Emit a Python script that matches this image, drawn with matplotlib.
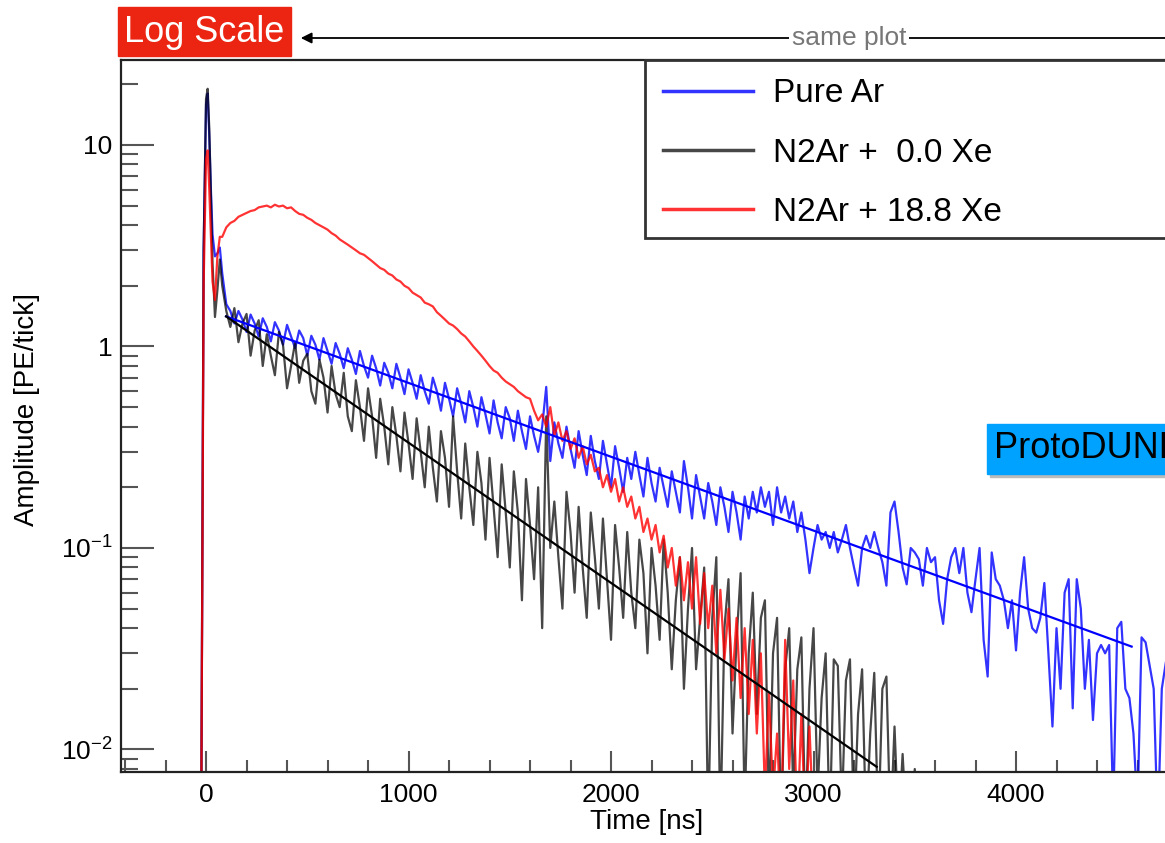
import numpy as np
import matplotlib.pyplot as plt
from matplotlib.ticker import LogLocator, MultipleLocator, NullFormatter
from matplotlib.patches import Rectangle

plt.rcParams['font.family'] = ['Liberation Sans', 'DejaVu Sans']
plt.rcParams['mathtext.fontset'] = 'custom'
plt.rcParams['mathtext.rm'] = 'Liberation Sans'
plt.rcParams['mathtext.it'] = 'Liberation Sans:italic'

# time grid [ns]: finer steps around the prompt peak, then 20 ns
t_head = [-40, -24, -12, 0, 8, 16, 24, 32, 44, 56, 68, 80]
t_tail = list(range(100, 4760, 20))
time = np.array(t_head + t_tail)

# Pure Ar waveform [PE/tick]
pure_ar = [0.004, 0.004, 3.0, 16.0, 18.0, 11.0, 6.0, 3.6, 2.8, 2.9, 3.1, 2.3,
           1.62, 1.50, 1.30, 1.50, 1.36, 1.18, 1.44, 1.30, 1.12, 1.38,
           1.25, 1.06, 1.32, 1.20, 1.02, 1.28, 1.12, 0.98, 1.20, 1.10,
           0.90, 1.13, 1.02, 0.86, 1.10, 0.95, 0.82, 1.04, 0.92, 0.78,
           0.98, 0.86, 0.73, 0.95, 0.80, 0.70, 0.90, 0.78, 0.64, 0.83,
           0.74, 0.62, 0.82, 0.70, 0.58, 0.77, 0.66, 0.55, 0.72, 0.60,
           0.52, 0.70, 0.60, 0.48, 0.66, 0.55, 0.45, 0.62, 0.52, 0.42,
           0.60, 0.50, 0.40, 0.56, 0.46, 0.37, 0.54, 0.42, 0.35, 0.50,
           0.44, 0.34, 0.48, 0.38, 0.31, 0.45, 0.36, 0.30, 0.40, 0.63,
           0.27, 0.42, 0.33, 0.28, 0.40, 0.31, 0.25, 0.38, 0.29, 0.23,
           0.36, 0.27, 0.22, 0.34, 0.26, 0.20, 0.32, 0.25, 0.19, 0.28,
           0.22, 0.30, 0.23, 0.18, 0.28, 0.21, 0.17, 0.25, 0.20, 0.16,
           0.24, 0.19, 0.15, 0.27, 0.20, 0.14, 0.23, 0.18, 0.14, 0.21,
           0.17, 0.13, 0.20, 0.16, 0.12, 0.19, 0.15, 0.11, 0.18, 0.14,
           0.19, 0.15, 0.20, 0.16, 0.19, 0.13, 0.20, 0.15, 0.18, 0.14,
           0.17, 0.12, 0.15, 0.11, 0.075, 0.10, 0.13, 0.11, 0.12, 0.10,
           0.12, 0.095, 0.11, 0.13, 0.10, 0.08, 0.065, 0.10, 0.115, 0.10,
           0.12, 0.10, 0.085, 0.065, 0.15, 0.17, 0.12, 0.08, 0.066, 0.10,
           0.095, 0.088, 0.065, 0.10, 0.085, 0.09, 0.055, 0.042, 0.07, 0.09,
           0.10, 0.075, 0.10, 0.06, 0.048, 0.07, 0.10, 0.035, 0.023, 0.095,
           0.07, 0.065, 0.055, 0.040, 0.055, 0.031, 0.06, 0.09, 0.05, 0.04,
           0.038, 0.045, 0.067, 0.03, 0.013, 0.04, 0.02, 0.06, 0.07, 0.016,
           0.07, 0.05, 0.02, 0.035, 0.014, 0.03, 0.033, 0.03, 0.033, 0.005,
           0.04, 0.043, 0.02, 0.018, 0.012, 0.005, 0.036, 0.034, 0.026, 0.02,
           0.004, 0.02, 0.027]

# N2-doped Ar, no Xe
n2ar_0xe = [0.004, 0.004, 3.0, 17.0, 19.0, 12.0, 5.5, 2.6, 1.4, 1.9, 2.7, 2.0,
            1.50, 1.25, 1.55, 1.05, 1.30, 1.45, 0.90, 1.20, 1.35, 0.80,
            1.15, 0.90, 0.72, 1.18, 1.02, 0.62, 0.80, 1.05, 0.66, 0.85,
            0.92, 0.60, 0.52, 0.86, 0.70, 0.47, 0.80, 0.58, 0.50, 0.74,
            0.45, 0.38, 0.68, 0.50, 0.34, 0.62, 0.45, 0.28, 0.55, 0.40,
            0.26, 0.50, 0.36, 0.24, 0.47, 0.33, 0.22, 0.44, 0.30, 0.20,
            0.40, 0.25, 0.17, 0.38, 0.28, 0.16, 0.45, 0.24, 0.14, 0.33,
            0.20, 0.13, 0.30, 0.21, 0.11, 0.28, 0.16, 0.09, 0.26, 0.15,
            0.08, 0.24, 0.15, 0.055, 0.22, 0.13, 0.07, 0.20, 0.04, 0.45,
            0.10, 0.17, 0.09, 0.05, 0.19, 0.12, 0.06, 0.16, 0.08, 0.045,
            0.15, 0.09, 0.05, 0.14, 0.07, 0.035, 0.13, 0.08, 0.045, 0.12,
            0.06, 0.04, 0.11, 0.075, 0.03, 0.10, 0.065, 0.035, 0.11, 0.06,
            0.025, 0.055, 0.09, 0.02, 0.05, 0.10, 0.025, 0.045, 0.08, 0.004,
            0.045, 0.09, 0.004, 0.04, 0.07, 0.012, 0.035, 0.075, 0.005, 0.03,
            0.06, 0.015, 0.045, 0.055, 0.005, 0.03, 0.045, 0.004, 0.025, 0.04,
            0.006, 0.025, 0.036, 0.004, 0.02, 0.04, 0.006, 0.018, 0.03, 0.004,
            0.028, 0.026, 0.005, 0.022, 0.028, 0.004, 0.015, 0.025, 0.004, 0.012,
            0.024, 0.004, 0.02, 0.023, 0.004, 0.013, 0.004, 0.0095, 0.004, 0.004,
            0.008, 0.004, 0.004]

# N2-doped Ar + 18.8 ppm Xe
n2ar_18xe = [0.004, 0.004, 2.0, 8.5, 9.4, 6.0, 3.5, 2.1, 1.7, 2.8, 3.5, 3.5,
             3.9, 4.1, 4.2, 4.4, 4.5, 4.6, 4.7, 4.75, 4.9, 4.95,
             5.0, 4.9, 5.05, 4.95, 5.0, 4.85, 4.9, 4.7, 4.55, 4.5,
             4.35, 4.25, 4.1, 4.0, 3.9, 3.8, 3.65, 3.55, 3.4, 3.3,
             3.2, 3.1, 3.0, 2.9, 2.85, 2.75, 2.65, 2.55, 2.45, 2.4,
             2.3, 2.25, 2.15, 2.1, 2.0, 1.95, 1.85, 1.8, 1.75, 1.65,
             1.62, 1.58, 1.48, 1.42, 1.36, 1.30, 1.27, 1.22, 1.16, 1.12,
             1.06, 1.0, 0.95, 0.90, 0.85, 0.80, 0.76, 0.74, 0.70, 0.67,
             0.65, 0.63, 0.60, 0.58, 0.56, 0.55, 0.48, 0.43, 0.46, 0.40,
             0.50, 0.36, 0.42, 0.34, 0.38, 0.31, 0.35, 0.28, 0.32, 0.26,
             0.29, 0.24, 0.25, 0.20, 0.23, 0.19, 0.22, 0.17, 0.20, 0.16,
             0.18, 0.14, 0.16, 0.12, 0.14, 0.11, 0.13, 0.095, 0.115, 0.08,
             0.10, 0.065, 0.09, 0.055, 0.085, 0.05, 0.09, 0.042, 0.075, 0.04,
             0.065, 0.03, 0.062, 0.028, 0.05, 0.022, 0.045, 0.018, 0.04, 0.015,
             0.035, 0.012, 0.03, 0.006, 0.019, 0.006, 0.012, 0.004, 0.035, 0.008,
             0.022, 0.004, 0.015, 0.004, 0.013, 0.004]

# exponential fits (end points)
fit_ar_t = [99, 4571]
fit_ar_v = [1.41, 0.0324]
fit_n2_t = [99, 3312]
fit_n2_v = [1.41, 0.0082]

labels = ['Pure Ar', 'N2Ar +  0.0 Xe', 'N2Ar + 18.8 Xe']

W, H = 1165, 843
fig = plt.figure(figsize=(W / 100, H / 100), dpi=100)
ax = fig.add_axes([121 / W, 1 - 772 / H, 1097.5 / W, 712 / H])

l1, = ax.plot(time[:len(pure_ar)], pure_ar, color='#0000ff', lw=1.6, alpha=0.8)
l2, = ax.plot(time[:len(n2ar_0xe)], n2ar_0xe, color='#000000', lw=1.6, alpha=0.72)
l3, = ax.plot(time[:len(n2ar_18xe)], n2ar_18xe, color='#ff0000', lw=1.6, alpha=0.8)
ax.plot(fit_ar_t, fit_ar_v, color='#0000ff', lw=1.6)
ax.plot(fit_n2_t, fit_n2_v, color='#000000', lw=1.6)

ax.set_yscale('log')
ax.set_xlim(-420, 5000)
ax.set_ylim(0.00773, 26.4)

ax.set_xticks([0, 1000, 2000, 3000, 4000])
ax.xaxis.set_minor_locator(MultipleLocator(200))
ax.set_yticks([0.01, 0.1, 1, 10])
ax.set_yticklabels([r'$10^{-2}$', r'$10^{-1}$', '1', '10'])
ax.yaxis.set_minor_locator(LogLocator(base=10, subs=np.arange(2, 10)))
ax.yaxis.set_minor_formatter(NullFormatter())

ax.tick_params(which='both', direction='in', color='#555555', width=1.5,
               labelsize=19, top=False, right=False)
ax.tick_params(axis='y', which='major', length=24, pad=6)
ax.tick_params(axis='y', which='minor', length=12)
ax.tick_params(axis='x', which='major', length=15, pad=8)
ax.tick_params(axis='x', which='minor', length=8.5)
for s in ax.spines.values():
    s.set_linewidth(1.6)
    s.set_color('#222222')

fig.text(647 / W, 1 - 822 / H, 'Time [ns]', ha='center', va='center', fontsize=20)
fig.text(27 / W, 1 - 410 / H, 'Amplitude [PE/tick]', rotation=90,
         ha='center', va='center', fontsize=20)

# legend, its box runs off the right edge
ax.add_patch(Rectangle((645 / W, 1 - 238 / H), 600 / W, 178 / H,
                       facecolor='white', edgecolor='#333333', lw=2,
                       transform=fig.transFigure, clip_on=False, zorder=5))
leg = ax.legend([l1, l2, l3], labels, loc='upper left', mode='expand',
                bbox_to_anchor=(645 / W, 1 - 238 / H, 600 / W, 178 / H),
                bbox_transform=fig.transFigure, fontsize=24, frameon=False,
                borderpad=0.55, labelspacing=0.85,
                handlelength=2.7, handletextpad=0.6, borderaxespad=0)
leg.set_zorder(7)
for h in leg.legend_handles:
    h.set_linewidth(2.5)

# "Log Scale" tag and arrow
fig.patches.append(Rectangle((118 / W, 1 - 56 / H), 173 / W, 49 / H,
                             color='#eb2512', transform=fig.transFigure))
fig.text(204.5 / W, 1 - 32 / H, 'Log Scale', color='white', fontsize=26,
         ha='center', va='center')
ax.annotate('', xy=(298, H - 38), xytext=(1200, H - 38), xycoords='figure pixels',
            textcoords='figure pixels', annotation_clip=False,
            arrowprops=dict(arrowstyle='-|>', color='black', lw=1.3, mutation_scale=16))
fig.text(849 / W, 1 - 38 / H, 'same plot', color='#777777', fontsize=19,
         ha='center', va='center', zorder=5,
         bbox=dict(facecolor='white', edgecolor='none', pad=2))

# "ProtoDUNE" tag
fig.patches.append(Rectangle((990 / W, 1 - 477 / H), 260 / W, 50 / H,
                             color='#bbbbbb', transform=fig.transFigure))
fig.patches.append(Rectangle((987 / W, 1 - 474 / H), 260 / W, 50 / H,
                             color='#00a2ff', transform=fig.transFigure))
fig.text(994 / W, 1 - 449 / H, 'ProtoDUNE', color='black', fontsize=26,
         ha='left', va='center')

fig.savefig('out.png', dpi=100)
